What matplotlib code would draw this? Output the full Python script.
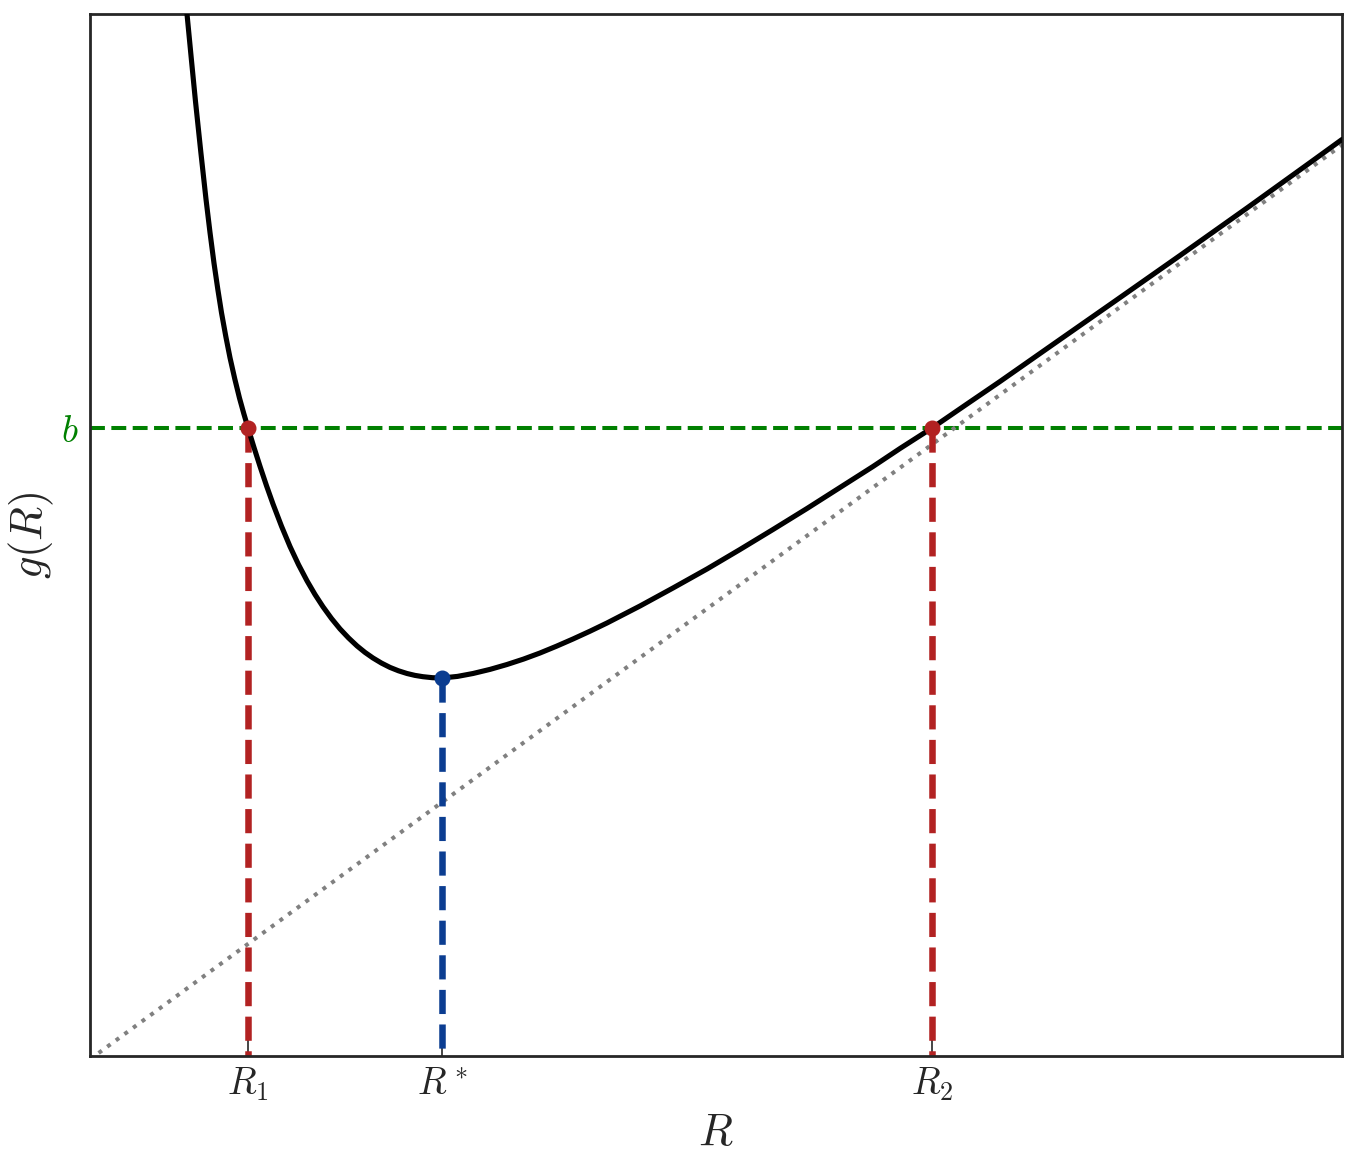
import matplotlib
matplotlib.use("Agg")
import matplotlib.pyplot as plt

plt.rcParams['mathtext.fontset'] = 'cm'
plt.rcParams['font.family'] = ['DejaVu Sans']

# Curve g(R) (axis units)
curve_R = [0.959, 0.970, 1.013, 1.055, 1.108, 1.160, 1.200, 1.240, 1.278, 1.315,
           1.358, 1.400, 1.448, 1.495, 1.538, 1.580, 1.640, 1.700, 1.765, 1.830,
           1.915, 2.000, 2.085, 2.170, 2.250, 2.330, 2.415, 2.500, 2.585, 2.670,
           2.750, 2.830, 2.915, 3.000, 3.085, 3.170, 3.250, 3.330, 3.425, 3.520,
           3.675, 3.830, 4.000, 4.170, 4.335, 4.500, 4.665, 4.830, 5.000, 5.170,
           5.500, 5.830, 6.170, 6.500, 6.830, 7.170, 7.500, 7.830, 8.100, 8.420,
           8.770, 9.100, 9.600, 10.230, 10.900, 11.570, 12.230, 12.520]
curve_g = [10.540, 10.420, 9.974, 9.545, 9.041, 8.568, 8.235, 7.928, 7.668, 7.433,
           7.196, 6.983, 6.770, 6.579, 6.424, 6.281, 6.085, 5.897, 5.703, 5.520,
           5.298, 5.095, 4.914, 4.752, 4.615, 4.492, 4.375, 4.271, 4.181, 4.101,
           4.036, 3.980, 3.929, 3.886, 3.852, 3.825, 3.806, 3.793, 3.783, 3.780,
           3.796, 3.825, 3.866, 3.915, 3.969, 4.030, 4.098, 4.170, 4.248, 4.330,
           4.500, 4.680, 4.870, 5.065, 5.265, 5.475, 5.685, 5.895, 6.075, 6.280,
           6.520, 6.745, 7.095, 7.535, 8.005, 8.480, 8.955, 9.165]

# Asymptote (dotted line) end points
asym_R = [0.0, 12.52]
asym_g = [-0.033, 9.11]

# Key values
b_level = 6.28
R1, Rstar, R2 = 1.58, 3.52, 8.42
g_Rstar = 3.78
tick_pos = [R1, Rstar, R2]
tick_labels = [r'$R_1$', r'$R^*$', r'$R_2$']

xlim = (0.0, 12.52)
ylim = (0.0, 10.42)

red = '#B22222'
blue = '#0B3D91'
green = '#008000'
dark = '#262626'

fig = plt.figure(figsize=(13.64, 11.52), dpi=100)
ax = fig.add_axes([90/1364, 1 - 1056/1152, (1342-90)/1364, (1056-14)/1152])

ax.axhline(b_level, color=green, lw=2.9, ls='--', zorder=2)
ax.plot(asym_R, asym_g, color='gray', lw=2.9, ls=':', zorder=2)
ax.plot(curve_R, curve_g, color='black', lw=3.7, zorder=3,
        solid_joinstyle='round', solid_capstyle='round')

ax.plot([R1, R1], [b_level, 0], color=red, lw=4.7, ls='--', zorder=2.2)
ax.plot([R2, R2], [b_level, 0], color=red, lw=4.7, ls='--', zorder=2.2)
ax.plot([Rstar, Rstar], [g_Rstar, 0], color=blue, lw=4.7, ls='--', zorder=2.2)

ax.plot([R1, R2], [b_level, b_level], 'o', color=red, ms=10.5, zorder=4)
ax.plot([Rstar], [g_Rstar], 'o', color=blue, ms=10.5, zorder=4)

ax.set_xlim(*xlim)
ax.set_ylim(*ylim)

ax.set_xticks(tick_pos)
ax.set_xticklabels(tick_labels)
ax.set_yticks([b_level])
ax.set_yticklabels([r'$b$'])
ax.tick_params(axis='x', direction='in', length=16, width=1.2, color=dark,
               labelsize=27, labelcolor=dark, pad=7)
ax.tick_params(axis='y', direction='in', length=6, width=1.2, color=dark,
               labelsize=27, labelcolor=green, pad=8)
ax.xaxis.set_zorder(1.5)
ax.yaxis.set_zorder(1.5)

for s in ax.spines.values():
    s.set_color(dark)
    s.set_linewidth(2.0)
    s.set_zorder(2.5)

ax.set_xlabel(r'$R$', fontsize=32, color=dark, labelpad=6)
ax.set_ylabel(r'$g(R)$', fontsize=32, color=dark, labelpad=4)

fig.savefig('out.png', dpi=100, facecolor='white')
